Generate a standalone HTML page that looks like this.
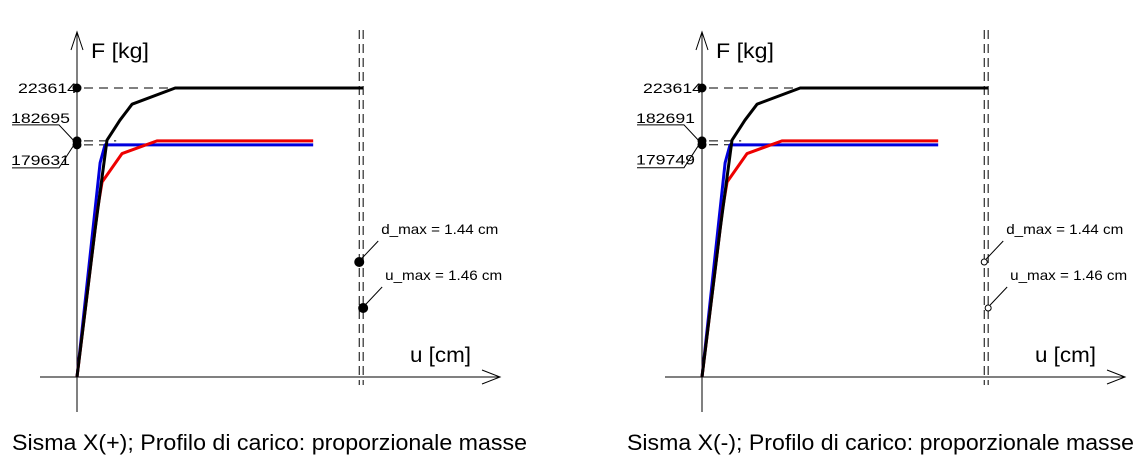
<!DOCTYPE html>
<html><head><meta charset="utf-8"><style>
html,body{margin:0;padding:0;background:#fff;}
svg{display:block;font-family:"Liberation Sans",sans-serif;}
</style></head><body>
<svg id="c" width="1142" height="463" viewBox="0 0 1142 463"></svg>
<script>
const panelTitles = ["Sisma X(+); Profilo di carico: proporzionale masse","Sisma X(-); Profilo di carico: proporzionale masse"];
const topLabels = [223614, 223614];
const upperLabels = [182695, 182691];
const lowerLabels = [179631, 179749];
const dMax = [1.44, 1.44];
const uMax = [1.46, 1.46];
const blackU = [0, 0.092, 0.153, 0.219, 0.281, 0.501, 1.46];
const blackF = [0, 113700, 183200, 198700, 211100, 223614, 223614];
const blueU = [0, 0.118, 0.143, 1.205];
const blueF = [0, 165800, 179631, 179631];
const redU = [0, 0.105, 0.128, 0.230, 0.408, 1.205];
const redF = [0, 130000, 150900, 172900, 182695, 182695];

const svg = document.getElementById('c');
const NS = 'http://www.w3.org/2000/svg';
function mk(tag, attrs, parent){const e=document.createElementNS(NS,tag);for(const k in attrs)e.setAttribute(k,attrs[k]);(parent||svg).appendChild(e);return e;}

for (let p=0;p<2;p++){
  const ox = 77 + p*625, oy = 377;
  const xs = u => ox + u*196;
  const ys = f => oy - f*(289/223614);
  const g = mk('g',{});
  
  
  const ya = mk('path',{d:`M${ox} 412 L${ox} 32 M${ox-6} 50 L${ox} 32 L${ox+6} 50`,stroke:'#000','stroke-width':1,fill:'none'},g);
   
  const xa = mk('path',{d:`M${ox-37} ${oy} L${ox+423} ${oy} M${ox+405} ${oy-7} L${ox+423} ${oy} L${ox+405} ${oy+7}`,stroke:'#000','stroke-width':1,fill:'none'},g);
   
  let t = mk('text',{x:ox+14,y:58,'font-size':21,textLength:58,lengthAdjust:'spacingAndGlyphs'},g); t.textContent='F [kg]';
   
  t = mk('text',{x:ox+333,y:362,'font-size':21,textLength:61,lengthAdjust:'spacingAndGlyphs'},g); t.textContent='u [cm]';
   
  [dMax[p],uMax[p]].forEach((v,i)=>{
    const l = mk('line',{x1:xs(v),y1:30,x2:xs(v),y2:385,stroke:'#000','stroke-width':1,'stroke-dasharray':'9,5'},g);
    
    
  });
  [[topLabels[p],xs(1.46)],[upperLabels[p],xs(0.2)],[lowerLabels[p],xs(0.2)]].forEach((a,i)=>{
    const l = mk('line',{x1:ox+7,y1:ys(a[0]),x2:a[1],y2:ys(a[0]),stroke:'#000','stroke-width':1,'stroke-dasharray':'9,6'},g);
    
    
  });
  [[blueU,blueF,'#0000dd','blue-curve'],[redU,redF,'#ee0000','red-curve'],[blackU,blackF,'#000','black-curve']].forEach(s=>{
    const pts = s[0].map((u,i)=>xs(u)+','+ys(s[1][i])).join(' ');
    const pl = mk('polyline',{points:pts,fill:'none',stroke:s[2],'stroke-width':3,'stroke-linejoin':'round'},g);
    
    
  });
  [topLabels[p],upperLabels[p],lowerLabels[p]].forEach(v=>{
    const c = mk('circle',{cx:ox,cy:ys(v),r:4.5,fill:'#000'},g);
    
    
  });
  const tl = {'font-size':14,textLength:59,lengthAdjust:'spacingAndGlyphs'};
  t = mk('text',Object.assign({x:ox-59,y:ys(topLabels[p])+5},tl),g); t.textContent=topLabels[p];
   
  t = mk('text',Object.assign({x:ox-66,y:ys(upperLabels[p])-18},tl),g); t.textContent=upperLabels[p];
   
  t = mk('text',Object.assign({x:ox-66,y:ys(lowerLabels[p])+20},tl),g); t.textContent=lowerLabels[p];
   
  const y1=ys(upperLabels[p]), y2=ys(lowerLabels[p]);
  const ld = mk('path',{d:`M${ox-65} ${y1-16} L${ox-18} ${y1-16} L${ox-3} ${y1} M${ox-65} ${y2+23} L${ox-18} ${y2+23} L${ox-3} ${y2}`,stroke:'#000','stroke-width':1,fill:'none'},g);
   
  [[dMax[p],262,'d_max = '+dMax[p].toFixed(2)+' cm','d-max'],[uMax[p],308,'u_max = '+uMax[p].toFixed(2)+' cm','u-max']].forEach(m=>{
    const cx = xs(m[0]);
    const c = mk('circle',{cx:cx,cy:m[1],r:p===0?4.5:3,fill:p===0?'#000':'#fff',stroke:'#000','stroke-width':1},g);
     
    const l = mk('line',{x1:cx+2,y1:m[1]-3,x2:cx+19,y2:m[1]-21,stroke:'#000','stroke-width':1},g);
     
    const tt = mk('text',{x:cx+22,y:m[1]-28,'font-size':14,textLength:117,lengthAdjust:'spacingAndGlyphs'},g); tt.textContent=m[2];
     
  });
  t = mk('text',{x:12+p*615,y:450,'font-size':22,textLength:p===0?515:507,lengthAdjust:'spacingAndGlyphs'},g); t.textContent=panelTitles[p];
   
}
</script>
</body></html>
